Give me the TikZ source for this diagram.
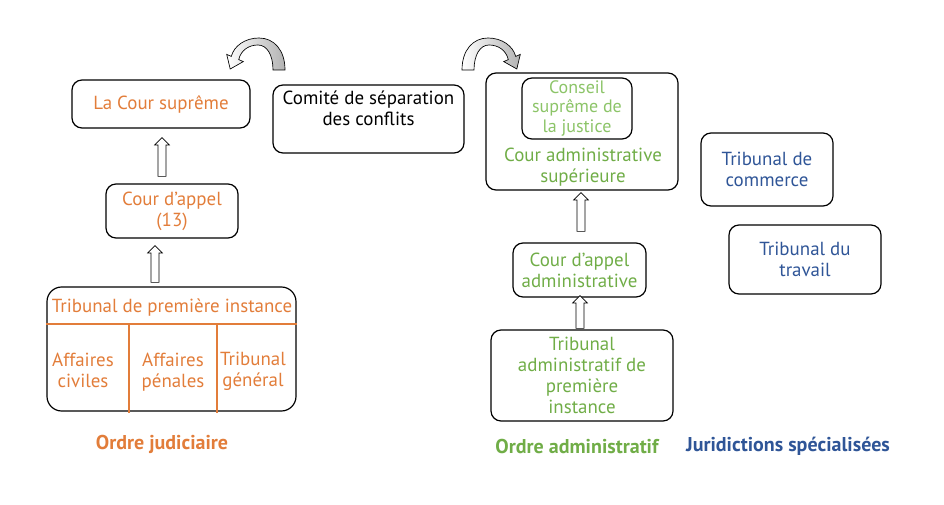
\documentclass[tikz,border=0pt]{standalone}
\usepackage{fontspec}
\setmainfont{PT Sans}
\usetikzlibrary{calc}
\definecolor{jud}{RGB}{226,125,58}
\definecolor{adm}{RGB}{112,173,71}
\definecolor{adml}{RGB}{140,196,104}
\definecolor{spe}{RGB}{47,85,151}
\tikzset{
  box/.style={draw, line width=0.9pt, rounded corners=7.5pt, align=center,
    inner sep=0pt, font=\fontsize{14.2}{15.75}\selectfont},
  txt/.style={align=center, inner sep=0pt, font=\fontsize{14.2}{15.75}\selectfont},
  ordre/.style={font=\fontsize{15}{18}\selectfont\bfseries, inner sep=0pt},
  hollow/.style={draw, fill=white, line width=0.5pt,
    to path={let \p1=(\tikztostart), \p2=(\tikztotarget) in
      (\x1-3pt,\y1) -- (\x1-3pt,\y2-5.5pt) -- (\x1-5.5pt,\y2-5.5pt) -- (\x1,\y2)
      -- (\x1+5.5pt,\y2-5.5pt) -- (\x1+3pt,\y2-5.5pt) -- (\x1+3pt,\y1) -- cycle}},
  bent/.style={draw, line width=0.5pt}
}
\begin{document}
\begin{tikzpicture}[x=0.75pt,y=-0.75pt]
\useasboundingbox (0,0) rectangle (944,505);

% ordre judiciaire
\node[box, text=jud, minimum width=133.5pt, minimum height=36pt] (supreme) at (161,104) {La Cour suprême};
\node[box, text=jud, minimum width=99pt, minimum height=40.5pt] (appel) at (172,211) {Cour d’appel\\(13)};
\node[box, rounded corners=11pt, minimum width=186.75pt, minimum height=93pt] (tpi) at (171.5,349) {};
\node[txt, text=jud] (tpititle) at (172,308) {Tribunal de première instance};
\draw[jud, line width=0.8pt] (tpi.west |- 0,324) -- (tpi.east |- 0,324);
\draw[jud, line width=0.8pt] (129,324) -- (129,413);
\draw[jud, line width=0.8pt] (217,324) -- (217,413);
\node[txt, text=jud] (civ) at (83,370.5) {Affaires\\civiles};
\node[txt, text=jud] (pen) at (173,372.5) {Affaires\\pénales};
\node[txt, text=jud] (gen) at (253,371) {Tribunal\\général};
\node[ordre, text=jud] (ojud) at (162,444) {Ordre judiciaire};

\draw[hollow] ($(appel.north)+(-10,-7)$) to ($(supreme.south)+(0,9)$);
\draw[hollow] ($(tpi.north)+(-16.5,-4)$) to ($(appel.south)+(0,7)$);

% comite
\node[box, minimum width=143.25pt, minimum height=51pt] (comite) at (368.5,119) {Comité de séparation\\des conflits\\~};

% ordre administratif
\node[box, minimum width=144pt, minimum height=87.75pt] (cas) at (582,131.5) {};
\node[box, text=adml, minimum width=82.5pt, minimum height=45.75pt,
  font=\fontsize{13.5}{14.5}\selectfont] (csj) at (577,108.5) {Conseil\\suprême de\\la justice};
\node[txt, text=adm] (castext) at (583,167) {Cour administrative\\supérieure};
\node[box, text=adm, minimum width=99.75pt, minimum height=40.5pt] (caa) at (579.5,270) {Cour d’appel\\administrative};
\node[box, text=adm, minimum width=136.5pt, minimum height=68.25pt] (tapi) at (582,375.5) {Tribunal\\administratif de\\première\\instance};
\node[ordre, text=adm] (oadm) at (577,446) {Ordre administratif};

\draw[hollow] ($(caa.north)+(1.5,-11)$) to ($(cas.south)+(0,2)$);
\draw[hollow] ($(tapi.north)+(-2,-1)$) to ($(caa.south)+(0,-2)$);

% juridictions specialisees
\node[box, text=spe, minimum width=99pt, minimum height=54.75pt] (comm) at (767,169.5) {Tribunal de\\commerce};
\node[box, text=spe, minimum width=114pt, minimum height=51.75pt] (trav) at (805,259.5) {Tribunal du\\travail};
\node[ordre, text=spe] (ospe) at (788,446) {Juridictions spécialisées};

% fleches courbes
\draw[bent, left color=white, right color=black!30]
  (285,70) .. controls (285,50) and (274,38) .. (259,38)
  .. controls (245,38) and (234,46) .. (231.3,56.4)
  -- (226.7,54.4) -- (230.2,69) -- (243.3,61.6) -- (238.7,59.6)
  .. controls (241,50) and (249,45) .. (258,45)
  .. controls (267,45) and (273,55) .. (273,70) -- cycle;
\begin{scope}[shift={(747,0)}, xscale=-1]
\draw[bent, left color=white, right color=black!30]
  (285,70) .. controls (285,50) and (274,38) .. (259,38)
  .. controls (245,38) and (234,46) .. (231.3,56.4)
  -- (226.7,54.4) -- (230.2,69) -- (243.3,61.6) -- (238.7,59.6)
  .. controls (241,50) and (249,45) .. (258,45)
  .. controls (267,45) and (273,55) .. (273,70) -- cycle;
\end{scope}
\end{tikzpicture}
\end{document}
